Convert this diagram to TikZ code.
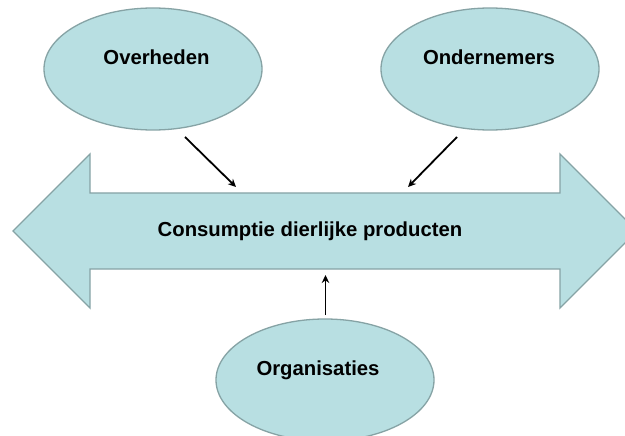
\documentclass[tikz,border=0pt]{standalone}
\usepackage{fontspec}
\setmainfont{Liberation Sans}
\usetikzlibrary{shapes.geometric,arrows.meta}
\definecolor{tealfill}{HTML}{B8DFE2}
\definecolor{tealline}{HTML}{86A3A5}
\tikzset{
  blob/.style={ellipse,draw=tealline,fill=tealfill,line width=1.3pt,minimum width=218pt,minimum height=122pt,inner sep=0pt},
  lbl/.style={font=\fontsize{20.3}{24}\selectfont\bfseries,anchor=base,inner sep=0pt},
  conn/.style={draw=black,line width=1.8pt,-{Stealth[length=8pt,width=7.5pt]}},
  bigarrow/.style={draw=tealline,fill=tealfill,line width=1.3pt,line join=miter}
}
\begin{document}
\begin{tikzpicture}[x=1pt,y=-1pt]
\useasboundingbox (0,0) rectangle (625,436);
\clip (0,0) rectangle (625,436);
\fill[white] (0,0) rectangle (625,436);
% double arrow
\draw[bigarrow] (13,231) -- (90,154) -- (90,193) -- (560,193) -- (560,154) -- (637,231)
  -- (560,308) -- (560,269) -- (90,269) -- (90,308) -- cycle;
\node[lbl] (cons) at (310,236.7) {Consumptie dierlijke producten};
% ellipses
\node[blob] (ov) at (153,69) {};
\node[lbl] (ovt) at (156.5,65) {Overheden};
\node[blob] (on) at (490,69) {};
\node[lbl] (ont) at (489,65) {Ondernemers};
\node[blob] (org) at (325,380) {};
\node[lbl] (orgt) at (318,375) {Organisaties};
% connector end points
\coordinate (a1) at (185,137);
\coordinate (a2) at (236,187);
\coordinate (b1) at (457,137);
\coordinate (b2) at (408,187);
\coordinate (c1) at (325.5,315);
\coordinate (c2) at (325.5,275);
\draw[conn] (a1) -- (a2);
\draw[conn] (b1) -- (b2);
\draw[conn] (c1) -- (c2);
\end{tikzpicture}
\end{document}
